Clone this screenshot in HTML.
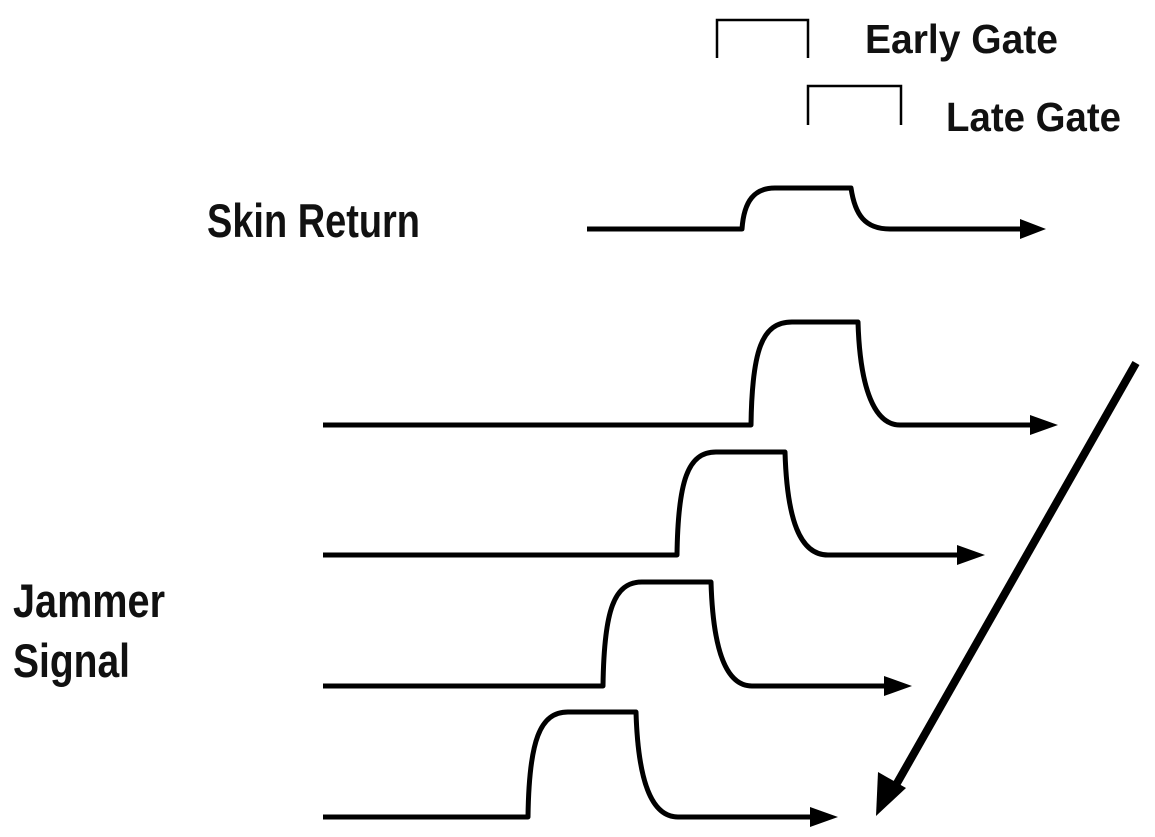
<!DOCTYPE html>
<html><head><meta charset="utf-8"><style>
html,body{margin:0;padding:0;background:#fff;}
svg{display:block;}
text{font-family:"Liberation Sans Narrow","Liberation Sans",sans-serif;fill:#111;font-weight:bold;}
</style></head><body>
<svg width="1155" height="837" viewBox="0 0 1155 837" xmlns="http://www.w3.org/2000/svg">
<g fill="none" stroke="#000" stroke-width="2.5">
<path d="M717,58 V20 H808 V58"/>
<path d="M808,125 V86 H901 V125"/>
</g>
<text x="865" y="53" font-size="41" textLength="193" lengthAdjust="spacingAndGlyphs">Early Gate</text>
<text x="946" y="131" font-size="41" textLength="175" lengthAdjust="spacingAndGlyphs">Late Gate</text>
<text x="207" y="237" font-size="47" textLength="213" lengthAdjust="spacingAndGlyphs">Skin Return</text>
<text x="13" y="617" font-size="47" textLength="152" lengthAdjust="spacingAndGlyphs">Jammer</text>
<text x="13" y="677" font-size="47" textLength="117" lengthAdjust="spacingAndGlyphs">Signal</text>
<g fill="none" stroke="#000" stroke-width="5" stroke-linejoin="round">
<path d="M587,229 H742 C744,200 755,188 775,188 H851 C855,215 865,229 890,229 H1025"/>
<path d="M323,425 H751 C752,350 762,322 792,322 H858 C860,390 875,425 900,425 H1035"/>
<path d="M323,555 H677 C678,480 688,452 716,452 H785 C787,520 800,555 828,555 H962"/>
<path d="M323,686 H603 C604,610 614,582 642,582 H711 C713,650 726,686 752,686 H888"/>
<path d="M323,817 H528 C529,740 540,712 568,712 H636 C638,780 651,817 678,817 H815"/>
<path d="M1136,363 L892,792" stroke-width="8"/>
</g>
<g fill="#000">
<polygon points="1020,219 1046,229 1020,239"/>
<polygon points="1030,415 1058,425 1030,435"/>
<polygon points="957,545 985,555 957,565"/>
<polygon points="884,676 912,686 884,696"/>
<polygon points="810,807 838,817 810,827"/>
<polygon points="876,816 878,772 906,788"/>
</g>
</svg>
</body></html>
